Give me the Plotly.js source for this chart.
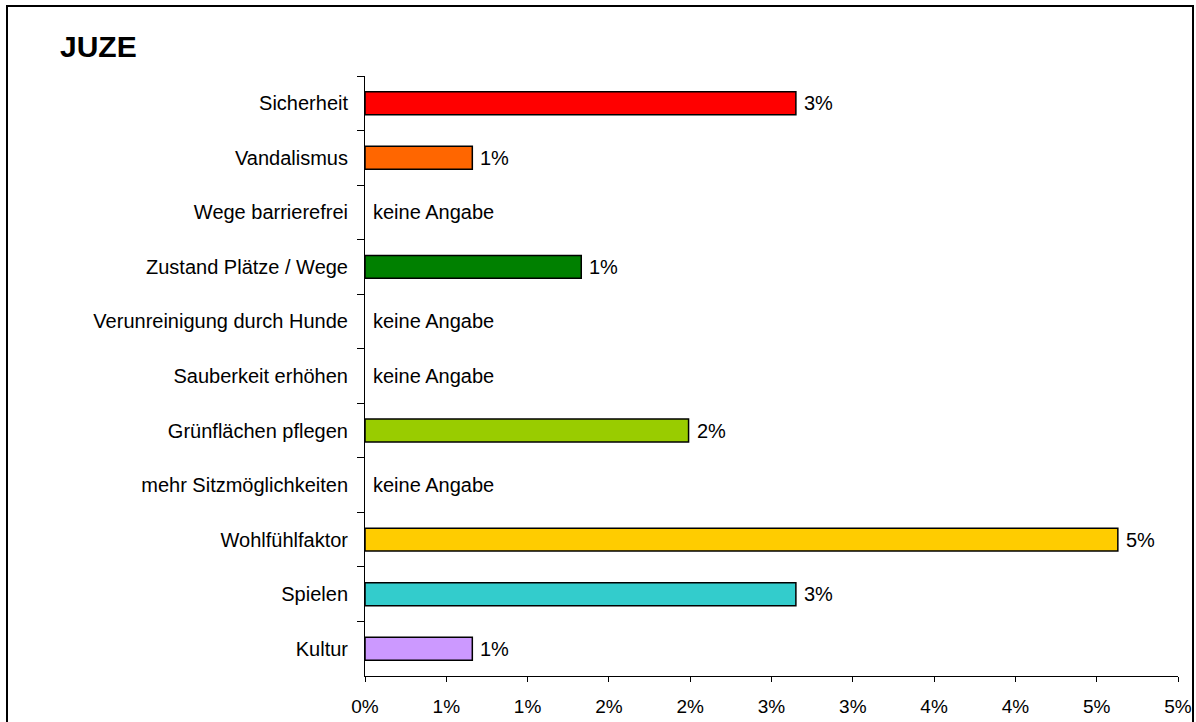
<!DOCTYPE html>
<html>
<head>
<meta charset="utf-8">
<script src="https://cdn.plot.ly/plotly-3.0.1.min.js"></script>
<style>
  html, body { margin: 0; padding: 0; background: #fff; }
  #frame { position: absolute; left: 6px; top: 5px; width: 1188px; height: 740px; border: 2px solid #000; box-sizing: border-box; pointer-events: none; z-index: 5; }
  #chart { position: absolute; left: 0; top: 0; width: 1196px; height: 722px; }
</style>
</head>
<body>
<div id="chart"></div>
<div id="frame"></div>
<script>
const chartTitle = "JUZE";
const categories = [
  "Sicherheit",
  "Vandalismus",
  "Wege barrierefrei",
  "Zustand Plätze / Wege",
  "Verunreinigung durch Hunde",
  "Sauberkeit erhöhen",
  "Grünflächen pflegen",
  "mehr Sitzmöglichkeiten",
  "Wohlfühlfaktor",
  "Spielen",
  "Kultur"
];
const values = [2.65, 0.66, 0, 1.33, 0, 0, 1.99, 0, 4.63, 2.65, 0.66];
const valueLabels = ["3%", "1%", "keine Angabe", "1%", "keine Angabe", "keine Angabe", "2%", "keine Angabe", "5%", "3%", "1%"];
const barColors = ["#FF0000", "#FF6600", "#FFFFFF", "#008000", "#FFFFFF", "#FFFFFF", "#99CC00", "#FFFFFF", "#FFCC00", "#33CCCC", "#CC99FF"];
const tickValues = [0, 0.5, 1, 1.5, 2, 2.5, 3, 3.5, 4, 4.5, 5];
const tickLabels = ["0%", "1%", "1%", "2%", "2%", "3%", "3%", "4%", "4%", "5%", "5%"];

const FONT = "'Liberation Sans', Arial, sans-serif";

const trace = {
  type: "bar",
  orientation: "h",
  y: categories,
  x: values,
  marker: {
    color: barColors,
    line: { color: "#000", width: values.map(v => v > 0 ? 1.5 : 0) }
  },
  hoverinfo: "y+x",
  showlegend: false
};

const annotations = categories.map((c, i) => ({
  x: values[i],
  y: c,
  xref: "x",
  yref: "y",
  text: valueLabels[i],
  showarrow: false,
  xanchor: "left",
  yanchor: "middle",
  xshift: 6,
  font: { family: FONT, size: 20, color: "#000" }
}));

const layout = {
  width: 1196,
  height: 722,
  margin: { l: 365, r: 18, t: 76, b: 46 },
  paper_bgcolor: "#fff",
  plot_bgcolor: "#fff",
  bargap: 0.58,
  title: {
    text: "<b>" + chartTitle + "</b>",
    xref: "container",
    yref: "container",
    x: 60 / 1196,
    xanchor: "left",
    y: 1 - 36 / 722,
    yanchor: "top",
    font: { family: FONT, size: 30, color: "#000" }
  },
  xaxis: {
    range: [0, 5],
    tickmode: "array",
    tickvals: tickValues,
    ticktext: tickLabels,
    showgrid: false,
    zeroline: false,
    showline: true,
    linecolor: "#000",
    linewidth: 1,
    ticks: "outside",
    ticklen: 5,
    tickcolor: "#000",
    ticklabelstandoff: 8,
    tickfont: { family: FONT, size: 19, color: "#000" },
    fixedrange: true
  },
  yaxis: {
    type: "category",
    autorange: "reversed",
    showgrid: false,
    zeroline: false,
    showline: true,
    linecolor: "#000",
    linewidth: 1,
    ticks: "outside",
    tickson: "boundaries",
    ticklen: 7,
    tickcolor: "#000",
    ticklabelstandoff: 12,
    tickfont: { family: FONT, size: 20, color: "#000" },
    fixedrange: true
  },
  annotations: annotations
};

Plotly.newPlot("chart", [trace], layout, { displayModeBar: false, staticPlot: true });
</script>
</body>
</html>
